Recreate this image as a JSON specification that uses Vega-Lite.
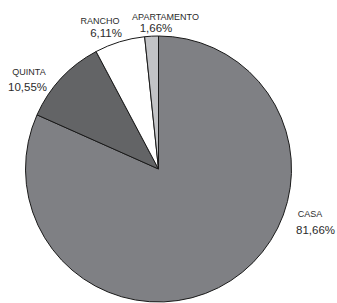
{
  "$schema": "https://vega.github.io/schema/vega-lite/v6.json",
  "width": 317,
  "height": 268,
  "autosize": {"type": "none"},
  "padding": {"left": 0, "top": 35, "right": 20, "bottom": 0},
  "background": "white",
  "config": {"view": {"stroke": null}, "text": {"font": "Liberation Sans", "fill": "#2b2b2b", "baseline": "alphabetic"}},
  "data": {"values": [
    {"category": "CASA", "value": 81.66, "label": "81,66%"},
    {"category": "QUINTA", "value": 10.55, "label": "10,55%"},
    {"category": "RANCHO", "value": 6.11, "label": "6,11%"},
    {"category": "APARTAMENTO", "value": 1.66, "label": "1,66%"}
  ]},
  "layer": [
    {
      "mark": {"type": "arc", "outerRadius": 133, "stroke": "#1a1a1a", "strokeWidth": 1},
      "encoding": {
        "theta": {"field": "value", "type": "quantitative", "stack": true},
        "order": {"field": "value", "type": "quantitative", "sort": "descending"},
        "color": {"field": "category", "type": "nominal", "legend": null,
          "scale": {"domain": ["CASA", "QUINTA", "RANCHO", "APARTAMENTO"], "range": ["#7f8084", "#636466", "#ffffff", "#c2c3c6"]}}
      }
    },
    {"transform": [{"filter": "datum.category == 'CASA'"}], "mark": {"type": "text", "fontSize": 9, "align": "center", "baseline": "alphabetic", "dx": 151.5, "dy": 48}, "encoding": {"theta": {"value": 0}, "radius": {"value": 0}, "text": {"field": "category"}}},
    {"transform": [{"filter": "datum.category == 'CASA'"}], "mark": {"type": "text", "fontSize": 11.5, "align": "center", "baseline": "alphabetic", "dx": 157, "dy": 64.5}, "encoding": {"theta": {"value": 0}, "radius": {"value": 0}, "text": {"field": "label"}}},
    {"transform": [{"filter": "datum.category == 'QUINTA'"}], "mark": {"type": "text", "fontSize": 9, "align": "center", "baseline": "alphabetic", "dx": -129.5, "dy": -94}, "encoding": {"theta": {"value": 0}, "radius": {"value": 0}, "text": {"field": "category"}}},
    {"transform": [{"filter": "datum.category == 'QUINTA'"}], "mark": {"type": "text", "fontSize": 11.5, "align": "center", "baseline": "alphabetic", "dx": -131, "dy": -78.3}, "encoding": {"theta": {"value": 0}, "radius": {"value": 0}, "text": {"field": "label"}}},
    {"transform": [{"filter": "datum.category == 'RANCHO'"}], "mark": {"type": "text", "fontSize": 9, "align": "center", "baseline": "alphabetic", "dx": -58.5, "dy": -145}, "encoding": {"theta": {"value": 0}, "radius": {"value": 0}, "text": {"field": "category"}}},
    {"transform": [{"filter": "datum.category == 'RANCHO'"}], "mark": {"type": "text", "fontSize": 11.5, "align": "center", "baseline": "alphabetic", "dx": -52.5, "dy": -131.7}, "encoding": {"theta": {"value": 0}, "radius": {"value": 0}, "text": {"field": "label"}}},
    {"transform": [{"filter": "datum.category == 'APARTAMENTO'"}], "mark": {"type": "text", "fontSize": 9, "align": "center", "baseline": "alphabetic", "dx": 7, "dy": -149.5}, "encoding": {"theta": {"value": 0}, "radius": {"value": 0}, "text": {"field": "category"}}},
    {"transform": [{"filter": "datum.category == 'APARTAMENTO'"}], "mark": {"type": "text", "fontSize": 11.5, "align": "center", "baseline": "alphabetic", "dx": -2.5, "dy": -137}, "encoding": {"theta": {"value": 0}, "radius": {"value": 0}, "text": {"field": "label"}}}
  ]
}
